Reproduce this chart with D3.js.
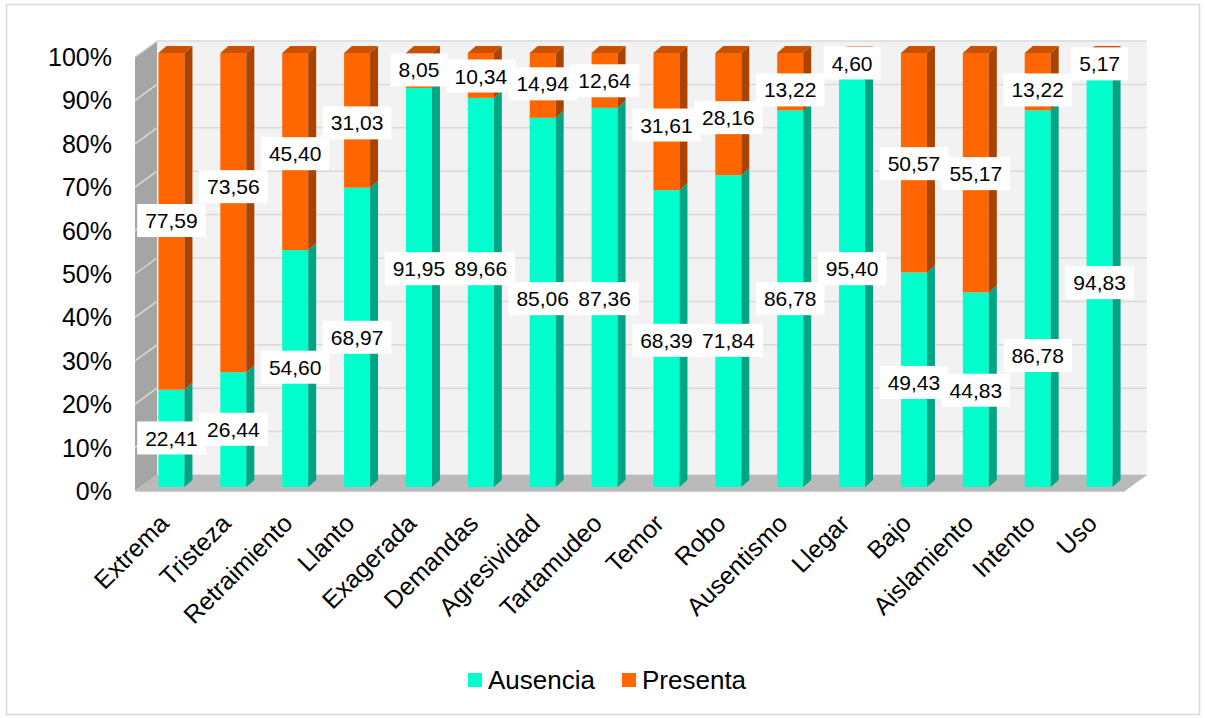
<!DOCTYPE html>
<html>
<head>
<meta charset="utf-8">
<script src="https://cdn.jsdelivr.net/npm/d3@7"></script>
<style>
  html, body { margin: 0; padding: 0; background: #ffffff; }
  svg { display: block; font-family: "Liberation Sans", Arial, sans-serif; }
</style>
</head>
<body>
<svg id="chart" width="1205" height="718"></svg>
<script>
// ---------- data ----------
const categories = ["Extrema","Tristeza","Retraimiento","Llanto","Exagerada","Demandas","Agresividad","Tartamudeo","Temor","Robo","Ausentismo","Llegar","Bajo","Aislamiento","Intento","Uso"];
const ausencia = [22.41,26.44,54.60,68.97,91.95,89.66,85.06,87.36,68.39,71.84,86.78,95.40,49.43,44.83,86.78,94.83];
const presenta = [77.59,73.56,45.40,31.03,8.05,10.34,14.94,12.64,31.61,28.16,13.22,4.60,50.57,55.17,13.22,5.17];
// where each data label sits on the value axis (percent), as placed in the original
const ausenciaLabelAt = [11.3,13.3,27.6,34.5,50.3,50.3,43.4,43.4,33.8,33.8,43.4,50.3,24.1,22.3,30.3,47.1];
const presentaLabelAt = [61.4,69.2,76.8,83.9,96.1,94.7,92.9,93.6,83.4,85.1,91.5,97.7,74.5,72.2,91.5,97.5];
const yTicks = [0,10,20,30,40,50,60,70,80,90,100];
const seriesNames = ["Ausencia","Presenta"];

// ---------- styles ----------
const colFront = {Ausencia:"#00FFCC", Presenta:"#FF6600"};
const colSide  = {Ausencia:"#00A584", Presenta:"#A84300"};
const colTop   = {Ausencia:"#00CCA3", Presenta:"#C95100"};

const svg = d3.select("#chart");
const fmt = v => v.toFixed(2).replace(".", ",");

// geometry
const plot = {x0:135, x1:1125, yTop:57, yBot:491};
const depth = {dx:22, dy:-16};
const barOff = {dx:depth.dx*0.25, dy:depth.dy*0.25};
const barW = 26, barD = {dx:8, dy:-7};

const x = d3.scaleBand().domain(categories).range([plot.x0, plot.x1]);
const y = d3.scaleLinear().domain([0,100]).range([plot.yBot, plot.yTop]);
const barCx = c => x(c) + x.bandwidth()/2 + barOff.dx;
const yb = v => y(v) + barOff.dy;

// outer frame
svg.append("rect").attr("x",6.5).attr("y",4.5).attr("width",1193).attr("height",710)
  .attr("fill","#fff").attr("stroke","#D9D9D9").attr("stroke-width",1.5);

// back wall
svg.append("rect")
  .attr("x", plot.x0+depth.dx).attr("y", plot.yTop+depth.dy)
  .attr("width", plot.x1-plot.x0).attr("height", plot.yBot-plot.yTop)
  .attr("fill","#F2F2F2");

// gridlines on back wall
svg.append("g").selectAll("line").data(yTicks).join("line")
  .attr("x1", plot.x0+depth.dx).attr("x2", plot.x1+depth.dx)
  .attr("y1", d=>y(d)+depth.dy).attr("y2", d=>y(d)+depth.dy)
  .attr("stroke","#D9D9D9").attr("stroke-width",1.5);

// left wall
svg.append("polygon")
  .attr("points", [[plot.x0,plot.yTop],[plot.x0+depth.dx,plot.yTop+depth.dy],[plot.x0+depth.dx,plot.yBot+depth.dy],[plot.x0,plot.yBot]].join(" "))
  .attr("fill","#A5A5A5");
svg.append("g").selectAll("line").data(yTicks.filter(d=>d>0)).join("line")
  .attr("x1", plot.x0).attr("x2", plot.x0+depth.dx)
  .attr("y1", d=>y(d)).attr("y2", d=>y(d)+depth.dy)
  .attr("stroke","#D9D9D9").attr("stroke-width",1.5);

// floor
svg.append("polygon")
  .attr("points", [[plot.x0,plot.yBot],[plot.x0+depth.dx,plot.yBot+depth.dy],[plot.x1+depth.dx,plot.yBot+depth.dy],[plot.x1,plot.yBot]].join(" "))
  .attr("fill","#BABABA");
svg.append("line").attr("x1",plot.x0).attr("x2",plot.x1).attr("y1",plot.yBot+0.5).attr("y2",plot.yBot+0.5)
  .attr("stroke","#D0D0D0").attr("stroke-width",1);

// stacked data
const rows = categories.map((c,i)=>({cat:c, segs:[
  {s:"Ausencia", v0:0, v1:ausencia[i]},
  {s:"Presenta", v0:ausencia[i], v1:ausencia[i]+presenta[i]}
]}));

const barsG = svg.append("g");
rows.forEach(r=>{
  const cx = barCx(r.cat), xl = cx - barW/2, xr = cx + barW/2;
  r.segs.forEach((sg, k)=>{
    const yt = yb(Math.min(sg.v1,100)), ybt = yb(sg.v0);
    barsG.append("rect").attr("x",xl).attr("y",yt).attr("width",barW).attr("height",ybt-yt)
      .attr("fill",colFront[sg.s]);
    barsG.append("polygon")
      .attr("points",[[xr,ybt],[xr,yt],[xr+barD.dx,yt+barD.dy],[xr+barD.dx,ybt+barD.dy]].join(" "))
      .attr("fill",colSide[sg.s]);
    if (k === r.segs.length-1) {
      barsG.append("polygon")
        .attr("points",[[xl,yt],[xr,yt],[xr+barD.dx,yt+barD.dy],[xl+barD.dx,yt+barD.dy]].join(" "))
        .attr("fill",colTop[sg.s]);
    }
  });
});

// data labels
function drawLabels(vals, at){
  const g = svg.append("g");
  categories.forEach((c,i)=>{
    const lg = g.append("g").attr("transform",`translate(${barCx(c)},${yb(at[i])})`);
    const rect = lg.append("rect").attr("fill","#fff");
    const t = lg.append("text").attr("text-anchor","middle").attr("dy","0.36em")
      .attr("font-size",21).attr("fill","#000").text(fmt(vals[i]));
    const bb = t.node().getBBox();
    rect.attr("x", bb.x-8).attr("width", bb.width+16).attr("y",-16.5).attr("height",33);
  });
}
drawLabels(ausencia, ausenciaLabelAt);
drawLabels(presenta, presentaLabelAt);

// y axis labels
svg.append("g").selectAll("text").data(yTicks).join("text")
  .attr("x",112).attr("y",d=>y(d)).attr("dy","0.36em").attr("text-anchor","end")
  .attr("font-size",25).attr("fill","#000").text(d=>d+"%");

// x axis labels
svg.append("g").selectAll("text").data(categories).join("text")
  .attr("transform", d=>`translate(${barCx(d)-1},525) rotate(-45)`)
  .attr("text-anchor","end").attr("font-size",25).attr("fill","#000").text(d=>d);

// legend
const legend = svg.append("g");
const legX = [468, 622];
seriesNames.forEach((s,i)=>{
  legend.append("rect").attr("x",legX[i]).attr("y",673).attr("width",14).attr("height",14).attr("fill",colFront[s]);
  legend.append("text").attr("x",legX[i]+20).attr("y",689).attr("font-size",26).attr("fill","#000").text(s);
});
</script>
</body>
</html>
